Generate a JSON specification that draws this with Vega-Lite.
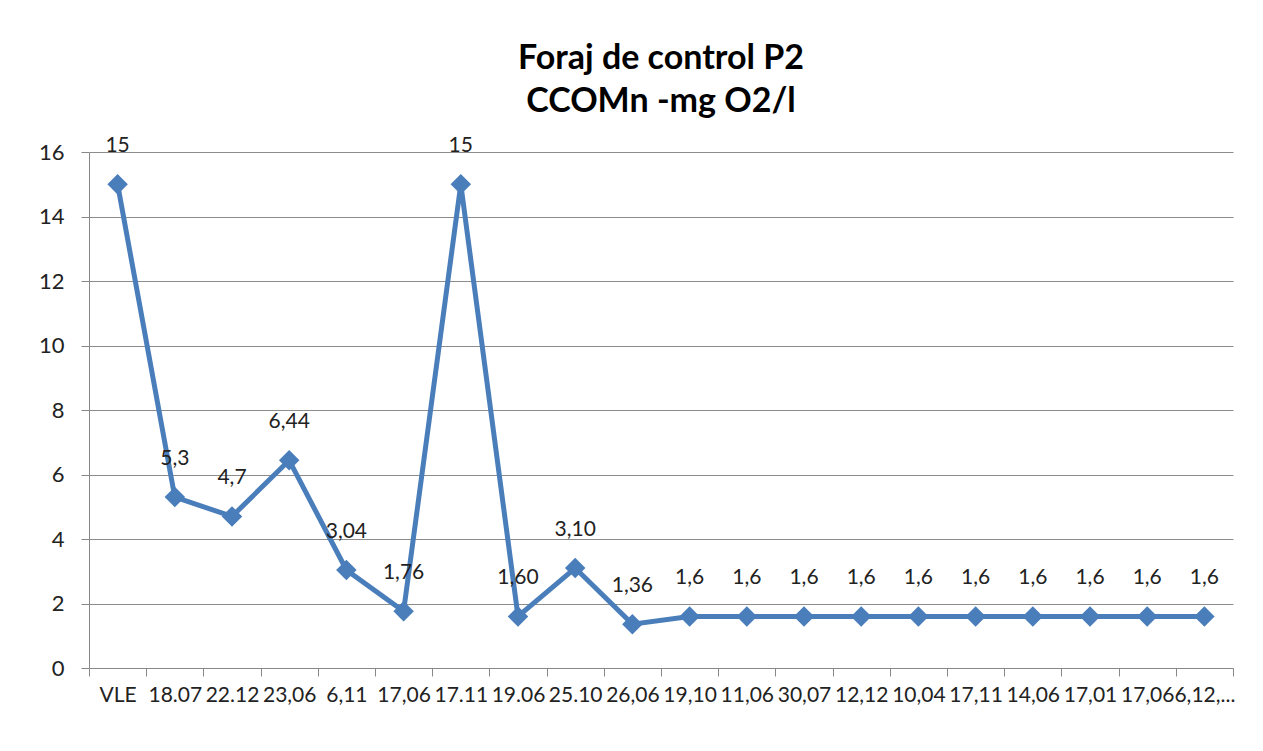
{
  "$schema": "https://vega.github.io/schema/vega-lite/v6.json",
  "width": 1144,
  "height": 516,
  "autosize": {"type": "none"},
  "padding": {"left": 89, "top": 152, "right": 30, "bottom": 83},
  "background": "white",
  "title": {
    "text": ["Foraj de control P2", "CCOMn -mg O2/l"],
    "font": "Lato",
    "fontSize": 34,
    "fontWeight": "bold",
    "color": "#000000",
    "anchor": "middle",
    "lineHeight": 43,
    "offset": 16
  },
  "data": {
    "values": [
      {"data": "VLE", "valoare": 15, "eticheta": "15"},
      {"data": "18.07", "valoare": 5.3, "eticheta": "5,3"},
      {"data": "22.12", "valoare": 4.7, "eticheta": "4,7"},
      {"data": "23,06", "valoare": 6.44, "eticheta": "6,44"},
      {"data": "6,11", "valoare": 3.04, "eticheta": "3,04"},
      {"data": "17,06", "valoare": 1.76, "eticheta": "1,76"},
      {"data": "17.11", "valoare": 15, "eticheta": "15"},
      {"data": "19.06", "valoare": 1.6, "eticheta": "1,60"},
      {"data": "25.10", "valoare": 3.1, "eticheta": "3,10"},
      {"data": "26,06", "valoare": 1.36, "eticheta": "1,36"},
      {"data": "19,10", "valoare": 1.6, "eticheta": "1,6"},
      {"data": "11,06", "valoare": 1.6, "eticheta": "1,6"},
      {"data": "30,07", "valoare": 1.6, "eticheta": "1,6"},
      {"data": "12,12", "valoare": 1.6, "eticheta": "1,6"},
      {"data": "10,04", "valoare": 1.6, "eticheta": "1,6"},
      {"data": "17,11", "valoare": 1.6, "eticheta": "1,6"},
      {"data": "14,06", "valoare": 1.6, "eticheta": "1,6"},
      {"data": "17,01", "valoare": 1.6, "eticheta": "1,6"},
      {"data": "17,06 ", "valoare": 1.6, "eticheta": "1,6"},
      {"data": "6,12,...", "valoare": 1.6, "eticheta": "1,6"}
    ]
  },
  "encoding": {
    "x": {
      "field": "data",
      "type": "ordinal",
      "sort": null,
      "scale": {"paddingInner": 0, "paddingOuter": 0},
      "axis": {
        "title": null,
        "labelAngle": 0,
        "labelOverlap": false,
        "labelFont": "Lato",
        "labelFontSize": 21,
        "labelColor": "#222222",
        "labelPadding": 8,
        "tickBand": "extent",
        "tickSize": 8,
        "tickColor": "#888888",
        "domainColor": "#888888",
        "grid": false
      }
    },
    "y": {
      "field": "valoare",
      "type": "quantitative",
      "scale": {"domain": [0, 16], "nice": false},
      "axis": {
        "title": null,
        "values": [0, 2, 4, 6, 8, 10, 12, 14, 16],
        "labelFont": "Lato",
        "labelFontSize": 22,
        "labelColor": "#222222",
        "labelPadding": 17,
        "tickSize": 8,
        "tickColor": "#888888",
        "domainColor": "#888888",
        "gridColor": "#8c8c8c",
        "gridWidth": 1.2
      }
    }
  },
  "layer": [
    {
      "mark": {"type": "line", "color": "#4a7ebb", "strokeWidth": 5}
    },
    {
      "mark": {"type": "point", "shape": "diamond", "filled": true, "size": 420, "color": "#4a7ebb", "opacity": 1}
    },
    {
      "mark": {"type": "text", "font": "Lato", "fontSize": 21, "color": "#222222", "dy": -38, "baseline": "middle"},
      "encoding": {"text": {"field": "eticheta"}}
    }
  ],
  "config": {"view": {"stroke": null}}
}
